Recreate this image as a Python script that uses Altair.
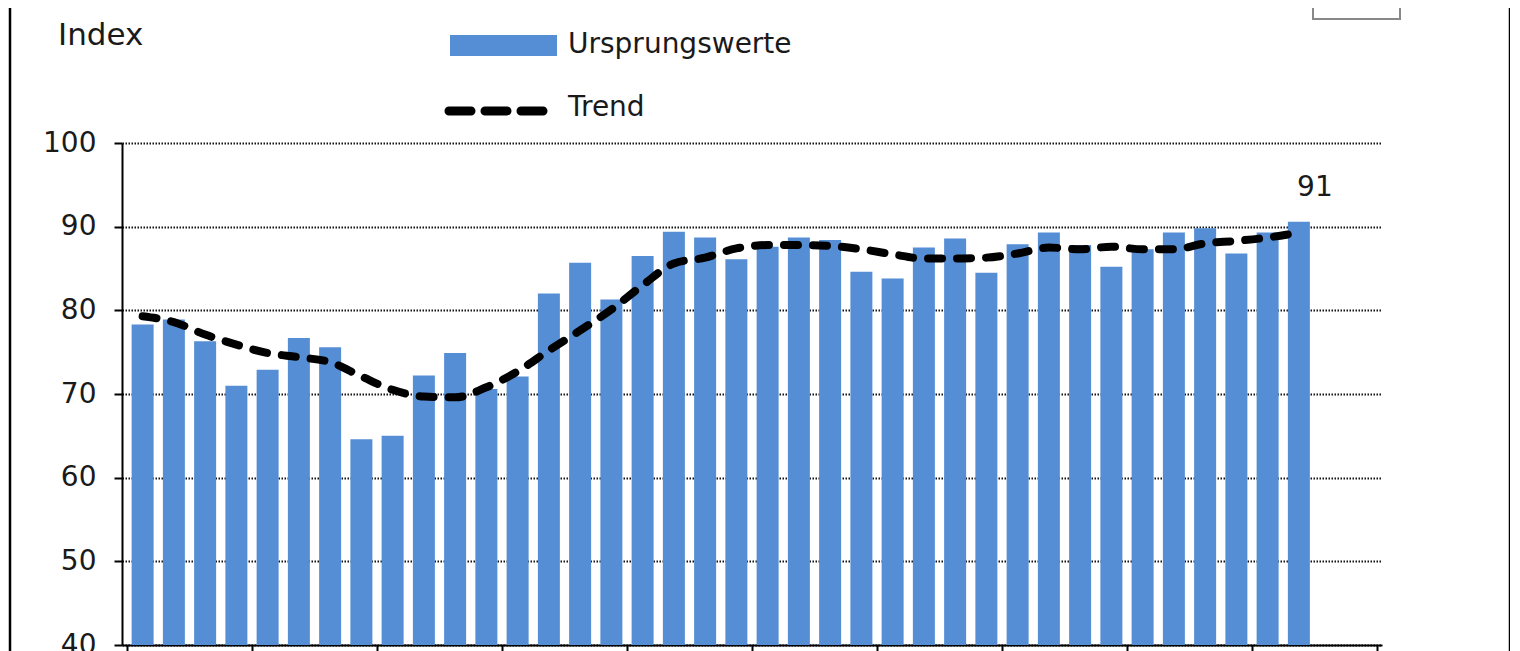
import altair as alt
import pandas as pd

# --- data (quarterly index values) ---
ursprungswerte = [78.3, 78.9, 76.3, 71.0, 72.9, 76.7, 75.6, 64.6, 65.0, 72.2,
                  74.9, 70.6, 72.1, 82.0, 85.7, 81.3, 86.5, 89.4, 88.7, 86.1,
                  87.6, 88.7, 88.4, 84.6, 83.8, 87.5, 88.6, 84.5, 87.9, 89.3,
                  87.8, 85.2, 87.3, 89.3, 89.8, 86.8, 89.3, 90.6]
trend = [79.3, 78.6, 77.1, 75.9, 74.9, 74.4, 73.8, 72.1, 70.5, 69.7,
         69.6, 70.8, 72.7, 75.2, 77.6, 80.1, 83.0, 85.6, 86.3, 87.4,
         87.8, 87.8, 87.7, 87.3, 86.7, 86.2, 86.2, 86.3, 86.8, 87.5,
         87.3, 87.6, 87.3, 87.3, 88.0, 88.3, 88.7, 89.3]
n_slots = 40           # 10 years x 4 quarters on the axis
year_ticks = list(range(0, 41, 4))
y_ticks = [40, 50, 60, 70, 80, 90, 100]
legend_labels = ["Ursprungswerte", "Trend"]
y_title = "Index"

FONT = "DejaVu Sans"
BLUE = "#558ED5"
TXT = "#1a1a1a"

df = pd.DataFrame({"idx": range(len(ursprungswerte)),
                   "wert": ursprungswerte,
                   "trend": trend})
deco = pd.DataFrame({"d": [0]})

base = alt.Chart(df).transform_calculate(pos="datum.idx + 0.5")

xenc = alt.X("pos:Q",
             scale=alt.Scale(domain=[0, n_slots], nice=False, zero=False),
             axis=alt.Axis(values=year_ticks, labels=False, grid=False, title=None,
                           domainColor="black", domainWidth=2, tickColor="black",
                           tickWidth=2, tickSize=12))
yscale = alt.Scale(domain=[40, 100], nice=False, zero=False)

bars = base.mark_bar(size=22, color=BLUE).encode(
    x=xenc,
    y=alt.Y("wert:Q", scale=yscale,
            axis=alt.Axis(values=y_ticks, title=None, grid=True,
                          gridDash=[1.5, 1.5], gridColor="#111", gridWidth=2,
                          domainColor="black", domainWidth=2, tickColor="black",
                          tickWidth=2, tickSize=8, labelPadding=18,
                          labelFontSize=28, labelFont=FONT, labelColor=TXT)),
    y2=alt.datum(40),
)

line = base.mark_line(color="black", strokeWidth=8, strokeDash=[14, 15],
                      strokeCap="round", interpolate="monotone").encode(
    x="pos:Q", y=alt.Y("trend:Q", scale=yscale))

last_label = base.transform_filter(f"datum.idx == {len(ursprungswerte) - 1}").mark_text(
    font=FONT, fontSize=28, color=TXT, baseline="bottom", dy=-20, dx=16
).encode(x="pos:Q", y=alt.Y("wert:Q", scale=yscale),
         text=alt.Text("wert:Q", format=".0f"))

dchart = alt.Chart(deco)
leg_rect = dchart.mark_rect(color=BLUE).encode(
    x=alt.value(328), x2=alt.value(435), y=alt.value(-108), y2=alt.value(-87))
leg_line = dchart.mark_rule(color="black", strokeWidth=9, strokeDash=[22, 14],
                            strokeCap="round").encode(
    x=alt.value(327), x2=alt.value(423), y=alt.value(-32))
leg_t1 = dchart.mark_text(text=legend_labels[0], font=FONT, fontSize=28, align="left",
                          baseline="middle", color=TXT).encode(
    x=alt.value(446), y=alt.value(-98))
leg_t2 = dchart.mark_text(text=legend_labels[1], font=FONT, fontSize=28, align="left",
                          baseline="middle", color=TXT).encode(
    x=alt.value(446), y=alt.value(-35))
title_t = dchart.mark_text(text=y_title, font=FONT, fontSize=31, align="left",
                           baseline="middle", color=TXT).encode(
    x=alt.value(-64), y=alt.value(-107))
frame = dchart.mark_rect(fill="transparent", stroke="black", strokeWidth=2.5).encode(
    x=alt.value(-112), x2=alt.value(1388), y=alt.value(-170), y2=alt.value(530))
box = dchart.mark_rect(fill="transparent", stroke="#888", strokeWidth=2).encode(
    x=alt.value(1191), x2=alt.value(1278), y=alt.value(-170), y2=alt.value(-124))

chart = alt.layer(bars, line, last_label, leg_rect, leg_line, leg_t1, leg_t2,
                  title_t, frame, box).properties(
    width=1260, height=502,
    autosize=alt.AutoSizeParams(type="none"),
    padding={"left": 114, "top": 135, "right": 128, "bottom": 20},
).configure(background="white").configure_view(stroke="transparent")

chart.save("out.html", embed_options={"renderer": "svg", "actions": False})
